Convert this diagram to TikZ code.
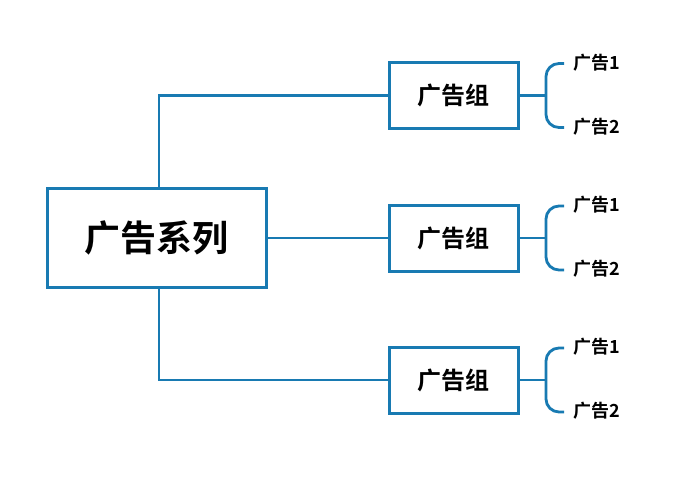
\documentclass[tikz,border=0pt]{standalone}
\usepackage{fontspec}
\newfontfamily\cjk{Noto Sans CJK SC Bold}
\definecolor{lineblue}{RGB}{24,122,178}
\begin{document}
\begin{tikzpicture}[x=1pt,y=-1pt,
  mainbox/.style={draw=lineblue,line width=3pt,fill=white,minimum width=219pt,minimum height=99pt,inner sep=0pt,font=\cjk\fontsize{36}{42}\selectfont},
  groupbox/.style={draw=lineblue,line width=3pt,fill=white,minimum width=129pt,minimum height=66pt,inner sep=0pt,font=\cjk\fontsize{24}{28}\selectfont},
  conn/.style={draw=lineblue,line width=2.8pt},
  adlabel/.style={anchor=west,inner sep=0pt,font=\cjk\fontsize{18}{22}\selectfont}]
\useasboundingbox (0,0) rectangle (684,476);
\fill[white] (0,0) rectangle (684,476);
\node[mainbox] (main) at (156.5,237.5) {广告系列};
\node[groupbox] (g1) at (453.5,95.5) {广告组};
\node[groupbox] (g2) at (453.5,238) {广告组};
\node[groupbox] (g3) at (453.5,380) {广告组};
\draw[conn] (main.north -| 159,0) |- (g1.west);
\draw[conn] (main.east |- g2.west) -- (g2.west);
\draw[conn] (main.south -| 159,0) |- (g3.west);
\foreach \g/\y in {1/95.5,2/238,3/380}{
  \coordinate (b\g) at (546,\y);
  \draw[conn] (g\g.east) -- (b\g);
  \draw[conn,rounded corners=13pt] (564,\y-32) -- (546,\y-32) -- (546,\y+32) -- (564,\y+32);
  \node[adlabel] (a\g1) at (573,\y-33) {广告1};
  \node[adlabel] (a\g2) at (573,\y+31) {广告2};
}
\end{tikzpicture}
\end{document}
